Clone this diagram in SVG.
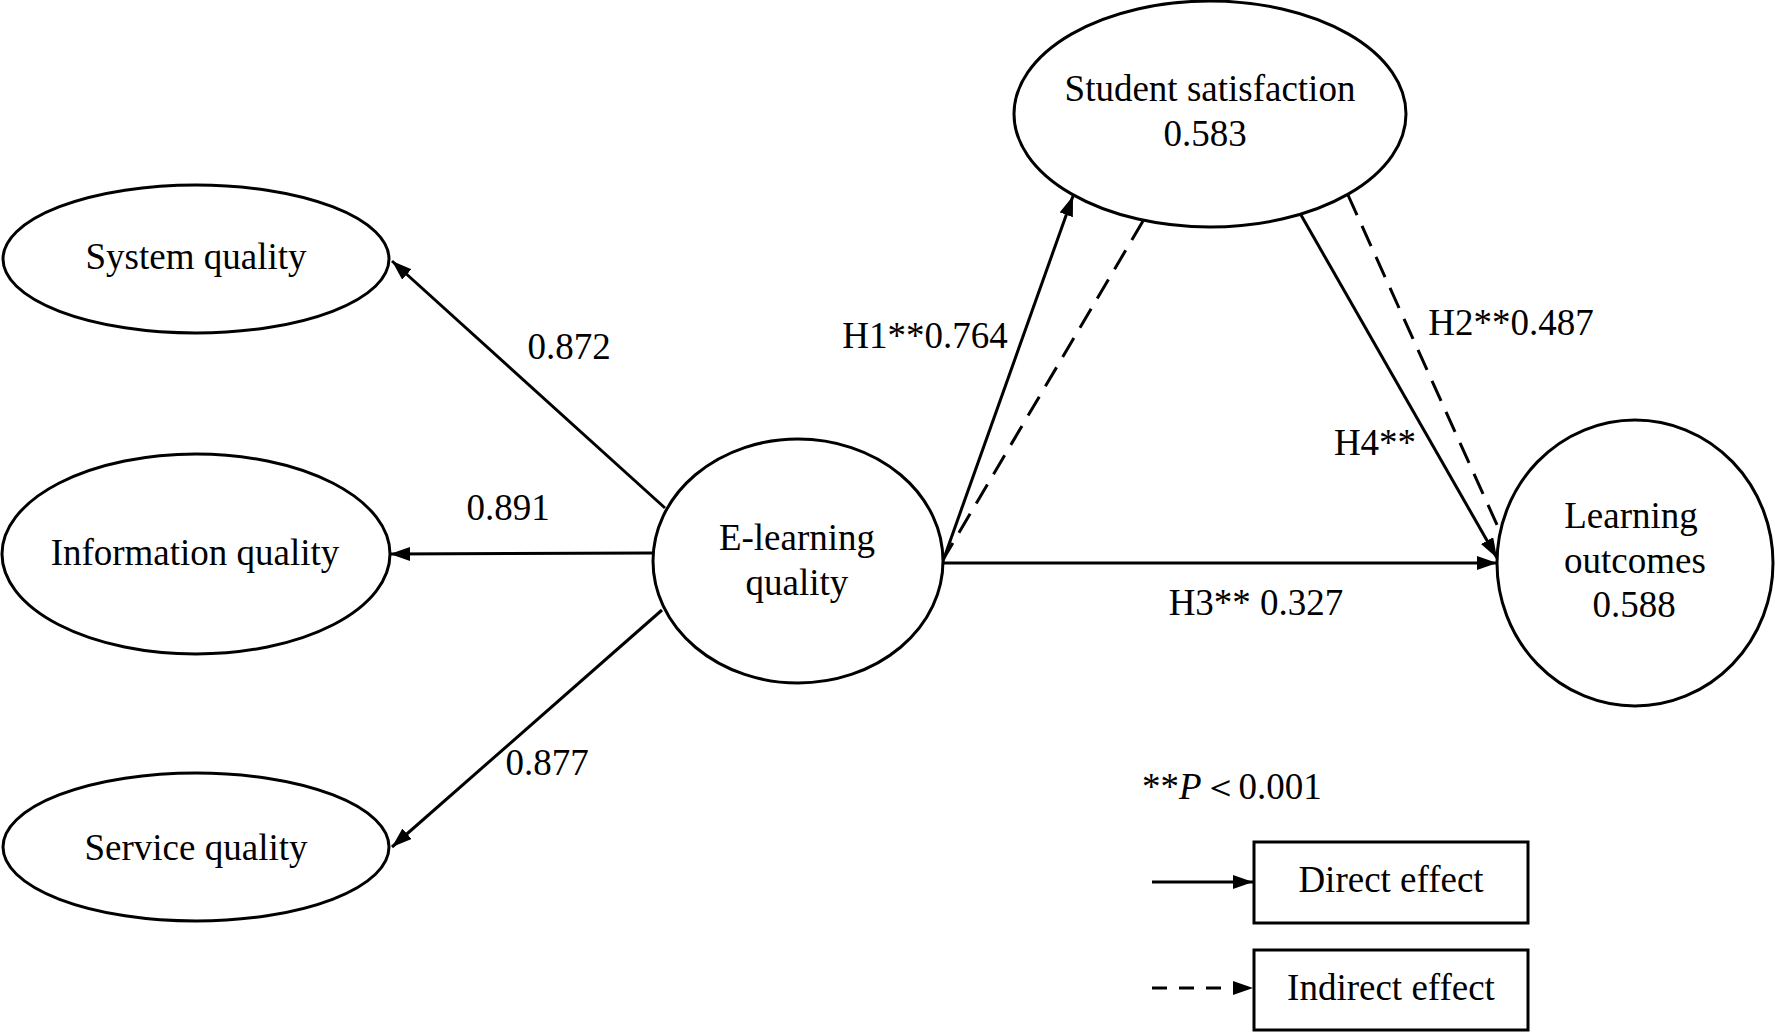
<svg xmlns="http://www.w3.org/2000/svg" width="1775" height="1033" viewBox="0 0 1775 1033">
<style>
.n{fill:#fff;stroke:#000;stroke-width:3}
.t{font-family:"Liberation Serif","Times New Roman",serif;font-size:37px;fill:#000;text-anchor:middle}
.c{stroke:#000;stroke-width:3;fill:none}
.d{stroke-dasharray:22 12}
</style>
<defs>
<marker id="ah" markerUnits="userSpaceOnUse" markerWidth="22" markerHeight="16" refX="20" refY="7" orient="auto">
<path d="M0,0 L20,7 L0,14 z" fill="#000"/>
</marker>
</defs>
<rect width="1775" height="1033" fill="#fff"/>
<g id="connectors">
<line class="c" x1="665" y1="508" x2="392" y2="261" marker-end="url(#ah)"/>
<line class="c" x1="653" y1="553" x2="390" y2="554" marker-end="url(#ah)"/>
<line class="c" x1="662" y1="610" x2="392" y2="847" marker-end="url(#ah)"/>
<line class="c" x1="943" y1="561" x2="1073" y2="196" marker-end="url(#ah)"/>
<line class="c d" x1="1143" y1="221" x2="944" y2="558"/>
<line class="c" x1="1301" y1="215" x2="1497" y2="558" marker-end="url(#ah)"/>
<line class="c d" x1="1348" y1="195" x2="1498" y2="527"/>
<line class="c" x1="943" y1="563" x2="1497" y2="563" marker-end="url(#ah)"/>
<line class="c" x1="1152" y1="882" x2="1253" y2="882" marker-end="url(#ah)"/>
<line class="c" x1="1152" y1="988" x2="1253" y2="988" stroke-dasharray="15 12" marker-end="url(#ah)"/>
</g>
<g id="n-system"><ellipse class="n" cx="196" cy="259" rx="193" ry="74"/><text class="t" x="196" y="269">System quality</text></g>
<g id="n-information"><ellipse class="n" cx="196" cy="554" rx="194" ry="100"/><text class="t" x="195" y="565">Information quality</text></g>
<g id="n-service"><ellipse class="n" cx="196" cy="847" rx="193" ry="74"/><text class="t" x="196" y="860">Service quality</text></g>
<g id="n-elearning"><ellipse class="n" cx="798" cy="561" rx="145" ry="122"/><text class="t" x="797" y="550">E-learning</text><text class="t" x="797" y="595">quality</text></g>
<g id="n-satisfaction"><ellipse class="n" cx="1210" cy="114" rx="196" ry="113"/><text class="t" x="1210" y="101">Student satisfaction</text><text class="t" x="1205" y="146">0.583</text></g>
<g id="n-outcomes"><ellipse class="n" cx="1635" cy="563" rx="138" ry="143"/><text class="t" x="1631" y="528">Learning</text><text class="t" x="1635" y="573">outcomes</text><text class="t" x="1634" y="617">0.588</text></g>
<g id="labels">
<text class="t" x="569" y="359">0.872</text>
<text class="t" x="508" y="520">0.891</text>
<text class="t" x="547" y="775">0.877</text>
<text class="t" x="925" y="348">H1**0.764</text>
<text class="t" x="1511" y="335">H2**0.487</text>
<text class="t" x="1375" y="455">H4**</text>
<text class="t" x="1256" y="615">H3** 0.327</text>
<text class="t" x="1142" y="799" style="text-anchor:start">**<tspan font-style="italic">P</tspan>＜0.001</text>
</g>
<g id="legend-direct"><rect class="n" x="1254" y="842" width="274" height="81"/><text class="t" x="1391" y="892">Direct effect</text></g>
<g id="legend-indirect"><rect class="n" x="1254" y="950" width="274" height="80"/><text class="t" x="1391" y="1000">Indirect effect</text></g>
</svg>
